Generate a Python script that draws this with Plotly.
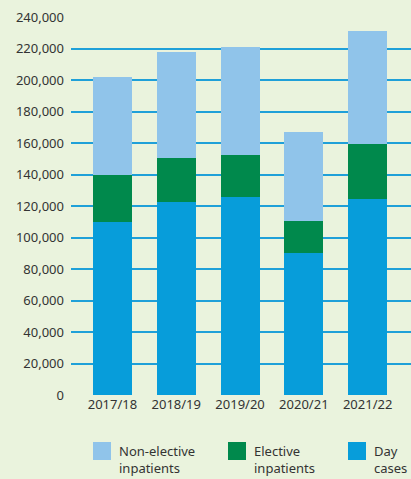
import plotly.graph_objects as go

years = ["2017/18", "2018/19", "2019/20", "2020/21", "2021/22"]
day_cases = [110000, 122500, 125700, 90200, 124400]
elective = [29800, 28000, 26700, 20300, 35000]
non_elective = [62200, 67300, 68600, 56500, 71600]

tick_vals = list(range(0, 240001, 20000))
tick_text = ["0"] + [f"{v:,}" for v in tick_vals[1:]]

colors = {"day": "#079DDA", "elective": "#00894C", "non": "#90C4EA"}
bg = "#EAF3DD"
font_family = "Noto Sans"

fig = go.Figure()
fig.add_bar(x=years, y=day_cases, marker_color=colors["day"], name="Day cases")
fig.add_bar(x=years, y=elective, marker_color=colors["elective"], name="Elective inpatients")
fig.add_bar(x=years, y=non_elective, marker_color=colors["non"], name="Non-elective inpatients")

fig.update_traces(width=0.61, marker_line_width=0, showlegend=False)

fig.update_layout(
    barmode="stack",
    width=411, height=479,
    margin=dict(l=71, r=0, t=17, b=84),
    paper_bgcolor=bg, plot_bgcolor=bg,
    font=dict(family=font_family, size=13, color="#333333"),
    xaxis=dict(range=[-0.65, 4.68], showgrid=False, zeroline=False, showline=False,
               ticks="", tickfont=dict(size=13, color="#333333")),
    yaxis=dict(range=[0, 240000], tickvals=tick_vals, ticktext=tick_text,
               showgrid=True, gridcolor="#1FA0D8", gridwidth=1.6,
               zeroline=False, showline=False, ticks="",
               ticklabelstandoff=6, tickfont=dict(size=13, color="#333333")),
)

# legend drawn as shapes + text
legend_items = [
    (93, colors["non"], "Non-elective<br>inpatients"),
    (228, colors["elective"], "Elective<br>inpatients"),
    (348, colors["day"], "Day<br>cases"),
]
for x0, c, label in legend_items:
    fig.add_shape(type="rect", xref="paper", yref="paper",
                  x0=(x0 - 71) / 340, x1=(x0 + 18 - 71) / 340,
                  y0=(395 - 460) / 378, y1=(395 - 442) / 378,
                  fillcolor=c, line_width=0)
    fig.add_annotation(xref="paper", yref="paper",
                       x=(x0 + 24 - 71) / 340, y=(395 - 459.5) / 378,
                       text=label, showarrow=False, xanchor="left", yanchor="middle",
                       align="left", font=dict(size=13, color="#333333"))

fig.write_html("out.html", config={"displayModeBar": False},
               post_script="document.body.style.margin='0';document.body.style.overflow='hidden';")
